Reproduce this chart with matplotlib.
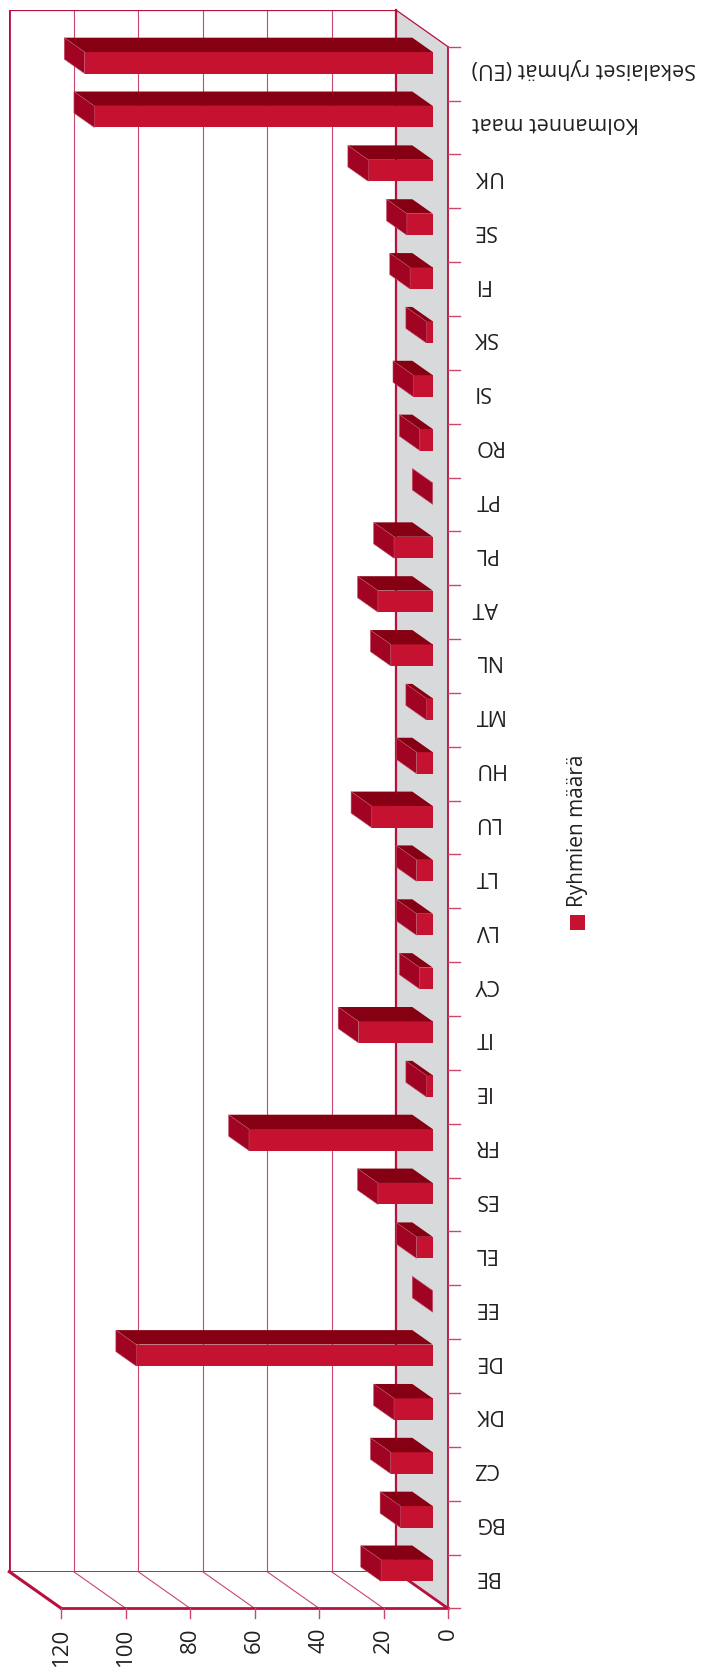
import matplotlib
matplotlib.use("Agg")
import matplotlib.pyplot as plt
from matplotlib.patches import Polygon, Rectangle
from matplotlib.lines import Line2D
from matplotlib.transforms import ScaledTranslation, IdentityTransform

plt.rcParams['font.family'] = ['Open Sans', 'DejaVu Sans']

# data, bottom to top
categories = ["BE", "BG", "CZ", "DK", "DE", "EE", "EL", "ES", "FR", "IE", "IT",
              "CY", "LV", "LT", "LU", "HU", "MT", "NL", "AT", "PL", "PT", "RO",
              "SI", "SK", "FI", "SE", "UK", "Kolmannet maat",
              "Sekalaiset ryhmät (EU)"]
values = [16, 10, 13, 12, 92, 0, 5, 17, 57, 2, 23,
          4, 5, 5, 19, 5, 2, 13, 17, 12, 0, 4,
          6, 2, 7, 8, 20, 105, 108]
value_ticks = [0, 20, 40, 60, 80, 100, 120]
legend_label = "Ryhmien määrä"

# colours
c_front = '#C41230'
c_top = '#850012'
c_side = '#A10422'
c_floor = '#D8D9DB'
c_frame = '#B5103E'
c_grid = '#C9476C'

W, H, DPI = 709, 1668, 100
DEPTH = (52, -36.7)  # pixel offset from back wall to front edge

fig = plt.figure(figsize=(W / DPI, H / DPI), dpi=DPI)
ax = fig.add_axes([9.3 / W, 1 - 1571.7 / H, (396 - 9.3) / W, (1571.7 - 10) / H])
ax.set_xlim(max(value_ticks), 0)
ax.set_ylim(-0.5, len(categories) - 0.5)
ax.axis('off')
ymin, ymax = -0.5, len(categories) - 0.5


def tr(f, ox=0, oy=0):
    # data transform pushed f of the way towards the front, plus extra pixel offset
    return ax.transData + ScaledTranslation((f * DEPTH[0] + ox) / DPI,
                                            (f * DEPTH[1] + oy) / DPI,
                                            fig.dpi_scale_trans)


def px(x, y, f, ox=0, oy=0):
    return tr(f, ox, oy).transform((x, y))


def face(pts, z=3, **kw):
    xy = [px(*p) for p in pts]
    fig.add_artist(Polygon(xy, closed=True, transform=IdentityTransform(),
                           zorder=z, **kw))


def seg(p1, p2, z=2, **kw):
    a = px(*p1)
    b = px(*p2)
    fig.add_artist(Line2D([a[0], b[0]], [a[1], b[1]],
                          transform=IdentityTransform(), zorder=z, **kw))


# back wall grid
for v in value_ticks[1:-1]:
    ax.axvline(v, color=c_grid, lw=0.8)
ax.axvline(max(value_ticks), color=c_frame, lw=2)
ax.axhline(ymax, color=c_frame, lw=1.6)
ax.axhline(ymin, color=c_frame, lw=2)

# floor at value 0
face([(0, ymin, 0), (0, ymax, 0), (0, ymax, 1), (0, ymin, 1)], z=1,
     fc=c_floor, ec='none')
seg((0, ymax, 0), (0, ymax, 1), color=c_frame, lw=0.9)
seg((0, ymin, 0), (0, ymin, 1), color=c_frame, lw=2)
seg((0, ymin, 0), (0, ymax, 0), color=c_frame, lw=1.6)
seg((0, ymin, 1), (0, ymax, 1), color=c_frame, lw=1.3)

# bottom wall
for v in value_ticks[1:-1]:
    seg((v, ymin, 0), (v, ymin, 1), color=c_grid, lw=0.8)
seg((max(value_ticks), ymin, 0), (max(value_ticks), ymin, 1), color=c_frame, lw=2.2)
seg((0, ymin, 1), (max(value_ticks), ymin, 1), color=c_frame, lw=2)

# value ticks and labels
for v in value_ticks:
    seg((v, ymin, 1), (v, ymin, 1, 0, -10), color=c_grid, lw=1)
    ax.text(v, ymin, str(v), transform=tr(1, 0, -19), rotation=90,
            ha='center', va='top', fontsize=16, color='#231F20')

# category ticks and labels
for i in range(len(categories) + 1):
    seg((0, i - 0.5, 1), (0, i - 0.5, 1, 12, 0), color=c_grid, lw=1)
for i, name in enumerate(categories):
    ax.text(0, i, name, transform=tr(1, 24, 5), rotation=180,
            ha='left', va='center', fontsize=15.5, color='#231F20')

# 3d bars
h = 0.2
f0, f1 = 0.314, 0.706
for i, v in enumerate(values):
    face([(0, i - h, f1), (v, i - h, f1), (v, i + h, f1), (0, i + h, f1)],
         fc=c_front, ec='none')
    face([(0, i + h, f1), (v, i + h, f1), (v, i + h, f0), (0, i + h, f0)],
         fc=c_top, ec='none')
    face([(v, i - h, f1), (v, i + h, f1), (v, i + h, f0), (v, i - h, f0)],
         fc=c_side, ec='#C0506A', lw=0.4)

# legend
fig.add_artist(Rectangle((569.5, H - 929.5), 15, 15, transform=IdentityTransform(),
                         fc=c_front, ec='none'))
fig.text(577 / W, 1 - 907 / H, legend_label, rotation=90, ha='center',
         va='bottom', fontsize=15, color='#231F20')

fig.savefig('out.png', dpi=DPI)
